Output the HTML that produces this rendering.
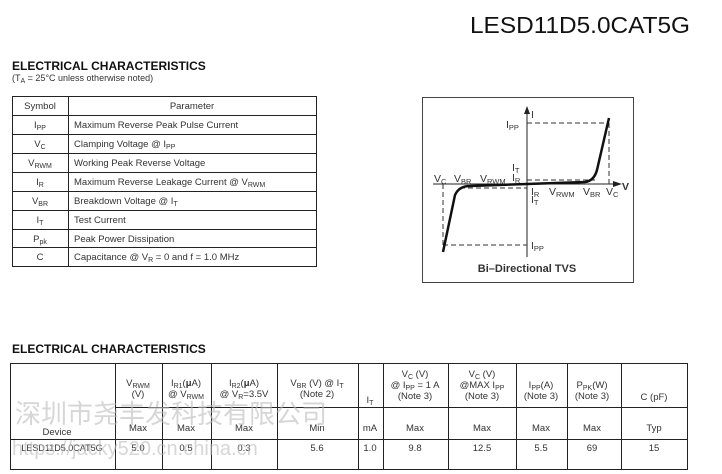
<!DOCTYPE html>
<html><head><meta charset="utf-8"><style>
body{margin:0;background:#fff}
svg{display:block}
text{font-family:"Liberation Sans","Noto Sans CJK SC",sans-serif;fill:#333}
</style></head><body>
<svg width="722" height="474" viewBox="0 0 722 474" xmlns="http://www.w3.org/2000/svg">
<text x="470" y="33" font-size="23" textLength="220" lengthAdjust="spacingAndGlyphs" style="fill:#111">LESD11D5.0CAT5G</text>
<text x="12" y="70" font-size="12" font-weight="bold" style="fill:#111">ELECTRICAL CHARACTERISTICS</text>
<text x="12" y="81" font-size="9">(T<tspan font-size="7" dy="2">A</tspan><tspan dy="-2"> = 25°C unless otherwise noted)</tspan></text>
<g stroke="#222" stroke-width="1" fill="none">
<rect x="12.5" y="96.5" width="304" height="170"/>
<line x1="68.5" y1="96" x2="68.5" y2="266"/>
<line x1="12" y1="115.5" x2="316" y2="115.5"/>
<line x1="12" y1="134.5" x2="316" y2="134.5"/>
<line x1="12" y1="153.5" x2="316" y2="153.5"/>
<line x1="12" y1="172.5" x2="316" y2="172.5"/>
<line x1="12" y1="191.5" x2="316" y2="191.5"/>
<line x1="12" y1="210.5" x2="316" y2="210.5"/>
<line x1="12" y1="229.5" x2="316" y2="229.5"/>
<line x1="12" y1="247.5" x2="316" y2="247.5"/>
</g>
<g font-size="9.5">
<text x="40" y="109" text-anchor="middle">Symbol</text>
<text x="192" y="109" text-anchor="middle">Parameter</text>
<text x="40" y="128" text-anchor="middle">I<tspan font-size="7" dy="2">PP</tspan></text>
<text x="74" y="128">Maximum Reverse Peak Pulse Current</text>
<text x="40" y="147" text-anchor="middle">V<tspan font-size="7" dy="2">C</tspan></text>
<text x="74" y="147">Clamping Voltage @ I<tspan font-size="7" dy="2">PP</tspan></text>
<text x="40" y="166" text-anchor="middle">V<tspan font-size="7" dy="2">RWM</tspan></text>
<text x="74" y="166">Working Peak Reverse Voltage</text>
<text x="40" y="185" text-anchor="middle">I<tspan font-size="7" dy="2">R</tspan></text>
<text x="74" y="185">Maximum Reverse Leakage Current @ V<tspan font-size="7" dy="2">RWM</tspan></text>
<text x="40" y="204" text-anchor="middle">V<tspan font-size="7" dy="2">BR</tspan></text>
<text x="74" y="204">Breakdown Voltage @ I<tspan font-size="7" dy="2">T</tspan></text>
<text x="40" y="223" text-anchor="middle">I<tspan font-size="7" dy="2">T</tspan></text>
<text x="74" y="223">Test Current</text>
<text x="40" y="242" text-anchor="middle">P<tspan font-size="7" dy="2">pk</tspan></text>
<text x="74" y="242">Peak Power Dissipation</text>
<text x="40" y="260" text-anchor="middle">C</text>
<text x="74" y="260">Capacitance @ V<tspan font-size="7" dy="2">R</tspan><tspan dy="-2"> = 0 and f = 1.0 MHz</tspan></text>
</g>
<!-- diagram -->
<rect x="422.5" y="97.5" width="211" height="185" fill="none" stroke="#444"/>
<g stroke="#222" stroke-width="1" fill="none">
<line x1="527" y1="257" x2="527" y2="112"/>
<line x1="433" y1="184" x2="615" y2="184"/>
</g>
<path d="M527 106 L524 114 L530 114Z M622 184 L613 181 L613 187Z" fill="#222"/>
<g stroke="#333" stroke-dasharray="5,3" fill="none">
<line x1="527" y1="123" x2="609" y2="123"/>
<line x1="609" y1="123" x2="609" y2="184"/>
<line x1="443" y1="245" x2="527" y2="245"/>
<line x1="443" y1="184" x2="443" y2="245"/>
<line x1="527" y1="180" x2="595" y2="180"/>
<line x1="460" y1="188" x2="527" y2="188"/>
</g>
<path d="M443 252 L455 195 Q459 186 470 186 L527 184 L585 182 Q594 181 597 170 L609 118" fill="none" stroke="#111" stroke-width="2.5"/>
<g font-size="10.5" style="fill:#111">
<text x="531" y="118">I</text>
<text x="506" y="128">I<tspan font-size="7.5" dy="2">PP</tspan></text>
<text x="512" y="171">I<tspan font-size="7.5" dy="2">T</tspan></text>
<text x="512" y="181">I<tspan font-size="7.5" dy="2">R</tspan></text>
<text x="434" y="182">V<tspan font-size="7.5" dy="2">C</tspan></text>
<text x="454" y="182">V<tspan font-size="7.5" dy="2">BR</tspan></text>
<text x="480" y="182">V<tspan font-size="7.5" dy="2">RWM</tspan></text>
<text x="531" y="195">I<tspan font-size="7.5" dy="2">R</tspan></text>
<text x="531" y="203">I<tspan font-size="7.5" dy="2">T</tspan></text>
<text x="549" y="195">V<tspan font-size="7.5" dy="2">RWM</tspan></text>
<text x="583" y="195">V<tspan font-size="7.5" dy="2">BR</tspan></text>
<text x="606" y="195">V<tspan font-size="7.5" dy="2">C</tspan></text>
<text x="622" y="190" font-weight="bold">V</text>
<text x="531" y="249">I<tspan font-size="7.5" dy="2">PP</tspan></text>
<text x="527" y="272" text-anchor="middle" font-weight="bold" font-size="11">Bi–Directional TVS</text>
</g>
<!-- table 2 -->
<text x="12" y="353" font-size="12" font-weight="bold" style="fill:#111">ELECTRICAL CHARACTERISTICS</text>
<g stroke="#222" fill="none">
<rect x="10.5" y="363.5" width="677" height="106"/>
<line x1="115" y1="407.5" x2="688" y2="407.5"/>
<line x1="10" y1="439.5" x2="688" y2="439.5"/>
<line x1="115.5" y1="363" x2="115.5" y2="470"/>
<line x1="162.5" y1="363" x2="162.5" y2="470"/>
<line x1="211.5" y1="363" x2="211.5" y2="470"/>
<line x1="277.5" y1="363" x2="277.5" y2="470"/>
<line x1="358.5" y1="363" x2="358.5" y2="470"/>
<line x1="383.5" y1="363" x2="383.5" y2="470"/>
<line x1="448.5" y1="363" x2="448.5" y2="470"/>
<line x1="516.5" y1="363" x2="516.5" y2="470"/>
<line x1="567.5" y1="363" x2="567.5" y2="470"/>
<line x1="621.5" y1="363" x2="621.5" y2="470"/>
</g>
<g font-size="9.5" text-anchor="middle">
<text x="138" y="386">V<tspan font-size="7" dy="2">RWM</tspan></text><text x="138" y="397">(V)</text>
<text x="186" y="386">I<tspan font-size="7" dy="2">R1</tspan><tspan dy="-2">(<tspan font-weight="bold">μ</tspan>A)</tspan></text><text x="186" y="397">@ V<tspan font-size="7" dy="2">RWM</tspan></text>
<text x="244" y="386">I<tspan font-size="7" dy="2">R2</tspan><tspan dy="-2">(<tspan font-weight="bold">μ</tspan>A)</tspan></text><text x="244" y="397">@ V<tspan font-size="7" dy="2">R</tspan><tspan dy="-2">=3.5V</tspan></text>
<text x="317" y="386">V<tspan font-size="7" dy="2">BR</tspan><tspan dy="-2"> (V) @ I</tspan><tspan font-size="7" dy="2">T</tspan></text><text x="317" y="397">(Note 2)</text>
<text x="370" y="403">I<tspan font-size="7" dy="2">T</tspan></text>
<text x="415" y="377">V<tspan font-size="7" dy="2">C</tspan><tspan dy="-2"> (V)</tspan></text><text x="415" y="388">@ I<tspan font-size="7" dy="2">PP</tspan><tspan dy="-2"> = 1 A</tspan></text><text x="415" y="399">(Note 3)</text>
<text x="482" y="377">V<tspan font-size="7" dy="2">C</tspan><tspan dy="-2"> (V)</tspan></text><text x="482" y="388">@MAX I<tspan font-size="7" dy="2">PP</tspan></text><text x="482" y="399">(Note 3)</text>
<text x="541" y="388">I<tspan font-size="7" dy="2">PP</tspan><tspan dy="-2">(A)</tspan></text><text x="541" y="399">(Note 3)</text>
<text x="592" y="388">P<tspan font-size="7" dy="2">PK</tspan><tspan dy="-2">(W)</tspan></text><text x="592" y="399">(Note 3)</text>
<text x="654" y="400">C (pF)</text>
<text x="57" y="435">Device</text>
<text x="138" y="431">Max</text><text x="186" y="431">Max</text><text x="244" y="431">Max</text><text x="317" y="431">Min</text><text x="370" y="431">mA</text>
<text x="415" y="431">Max</text><text x="482" y="431">Max</text><text x="541" y="431">Max</text><text x="592" y="431">Max</text><text x="654" y="431">Typ</text>
<text x="62" y="451" font-size="9">LESD11D5.0CAT5G</text>
<text x="138" y="451">5.0</text><text x="186" y="451">0.5</text><text x="244" y="451">0.3</text><text x="317" y="451">5.6</text><text x="370" y="451">1.0</text>
<text x="415" y="451">9.8</text><text x="482" y="451">12.5</text><text x="541" y="451">5.5</text><text x="592" y="451">69</text><text x="654" y="451">15</text>
</g>
<g style="fill:#bbb" opacity="0.6">
<text x="15" y="423" font-size="26" style="fill:#bbb">深圳市尧丰发科技有限公司</text>
<text x="12" y="455" font-size="20" style="fill:#bbb">https://jacky520.cn.china.cn</text>
</g>
</svg>
</body></html>
